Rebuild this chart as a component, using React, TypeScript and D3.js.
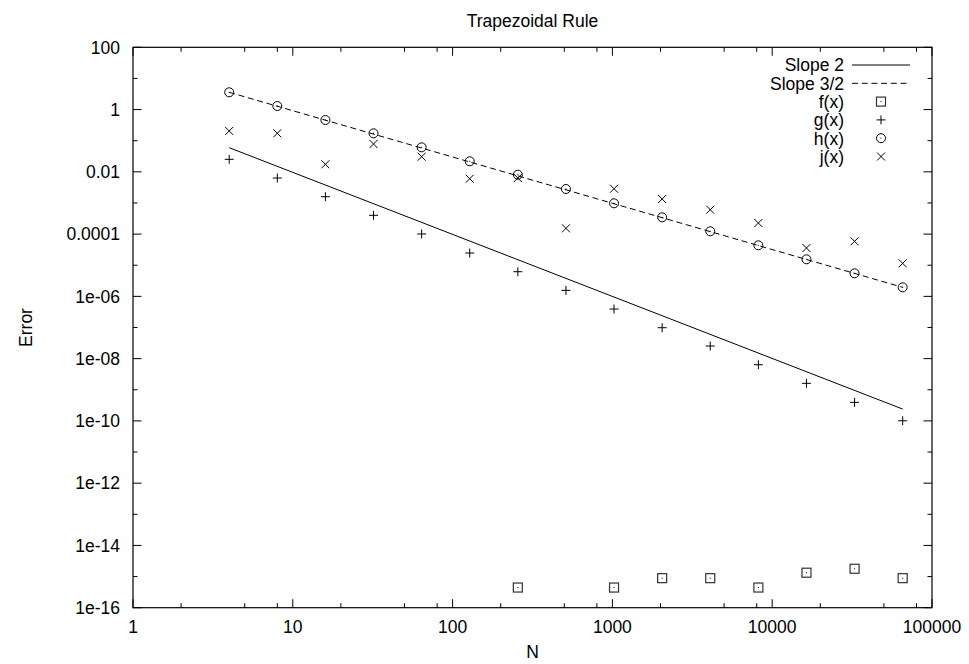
import React from "react";
import * as d3 from "d3";

const W = 969;
const H = 664;

const title = "Trapezoidal Rule";
const xLabel = "N";
const yLabel = "Error";

const N = [4, 8, 16, 32, 64, 128, 256, 512, 1024, 2048, 4096, 8192, 16384, 32768, 65536];
const fVals: (number | null)[] = [null, null, null, null, null, null, 4.44e-16, null, 4.44e-16, 8.88e-16, 8.88e-16, 4.44e-16, 1.33e-15, 1.78e-15, 8.88e-16];
const gVals = [0.0252, 0.00633, 0.00159, 0.000401, 0.000101, 2.47e-5, 6.19e-6, 1.56e-6, 3.92e-7, 9.84e-8, 2.54e-8, 6.37e-9, 1.61e-9, 3.94e-10, 1.01e-10];
const hVals = [3.585, 1.3, 0.462, 0.1727, 0.0613, 0.0218, 0.00808, 0.00281, 0.000975, 0.000346, 0.000123, 4.36e-5, 1.55e-5, 5.5e-6, 1.95e-6];
const jVals = [0.205, 0.173, 0.0175, 0.0783, 0.0306, 0.00601, 0.00633, 0.000153, 0.00287, 0.00134, 0.000607, 0.000227, 3.57e-5, 5.86e-5, 1.15e-5];

const lineN = [4, 65536];
const slope2 = [0.0596, 2.4e-10];
const slope32 = [3.585, 1.95e-6];

const xTickVals = [1, 10, 100, 1000, 10000, 100000];
const xTickLabels = ["1", "10", "100", "1000", "10000", "100000"];
const yExps = d3.range(-16, 3);
const yLabelMap: Record<number, string> = {
  2: "100", 0: "1", [-2]: "0.01", [-4]: "0.0001", [-6]: "1e-06", [-8]: "1e-08",
  [-10]: "1e-10", [-12]: "1e-12", [-14]: "1e-14", [-16]: "1e-16",
};
const legendNames = ["Slope 2", "Slope 3/2", "f(x)", "g(x)", "h(x)", "j(x)"];

const L = 133, R = 932, T = 47.3, B = 607.7;
const FONT = "'Liberation Sans', Arial, Helvetica, sans-serif";
const FS = 17.5;

function Marker({ kind, x, y }: { kind: string; x: number; y: number }) {
  const s = "#000";
  if (kind === "plus") {
    return <g stroke={s} strokeWidth={1}>
      <line x1={x - 4.5} x2={x + 4.5} y1={y} y2={y} />
      <line x1={x} x2={x} y1={y - 4.5} y2={y + 4.5} />
    </g>;
  }
  if (kind === "cross") {
    return <g stroke={s} strokeWidth={1}>
      <line x1={x - 4} x2={x + 4} y1={y - 4} y2={y + 4} />
      <line x1={x - 4} x2={x + 4} y1={y + 4} y2={y - 4} />
    </g>;
  }
  if (kind === "circle") {
    return <g>
      <circle cx={x} cy={y} r={4.5} fill="none" stroke={s} strokeWidth={1} />
      <rect x={x - 0.5} y={y - 0.5} width={1} height={1} fill={s} />
    </g>;
  }
  return <g>
    <rect x={x - 4.5} y={y - 4.5} width={9} height={9} fill="none" stroke="#333" strokeWidth={1.2} />
    <rect x={x - 0.5} y={y - 0.5} width={1} height={1} fill={s} />
  </g>;
}

export default function App() {
  const x = d3.scaleLog().domain([1, 1e5]).range([L, R]);
  const y = d3.scaleLog().domain([1e-16, 100]).range([B, T]);
  const line = d3.line<[number, number]>().x(d => x(d[0])).y(d => y(d[1]));

  const xMinor: number[] = [];
  for (let e = 0; e < 5; e++) for (const m of [2, 5, 8]) xMinor.push(m * Math.pow(10, e));

  const legendY = (i: number) => 65 + i * 18.3;
  const kinds = ["square", "plus", "circle", "cross"];
  const series = [fVals, gVals, hVals, jVals];

  return (
    <svg width={W} height={H} style={{ position: "absolute", left: 0, top: 0, background: "#fff" }}
      fontFamily={FONT} fontSize={FS}>
      <rect x={0} y={0} width={W} height={H} fill="#fff" />
      {/* ticks */}
      <g stroke="#000" strokeWidth={1}>
        {xTickVals.map(v => <g key={"xt" + v}>
          <line x1={x(v)} x2={x(v)} y1={B} y2={B - 8.5} />
          <line x1={x(v)} x2={x(v)} y1={T} y2={T + 8.5} />
        </g>)}
        {xMinor.map(v => <g key={"xm" + v}>
          <line x1={x(v)} x2={x(v)} y1={B} y2={B - 4.5} />
          <line x1={x(v)} x2={x(v)} y1={T} y2={T + 4.5} />
        </g>)}
        {yExps.map(e => {
          const len = e % 2 === 0 ? 8.5 : 4.5;
          const yy = y(Math.pow(10, e));
          return <g key={"yt" + e}>
            <line x1={L} x2={L + len} y1={yy} y2={yy} />
            <line x1={R} x2={R - len} y1={yy} y2={yy} />
          </g>;
        })}
      </g>
      {/* tick labels */}
      {xTickVals.map((v, i) => <text key={"xl" + v} x={x(v)} y={633} textAnchor="middle">{xTickLabels[i]}</text>)}
      {yExps.filter(e => e % 2 === 0).map(e => <text key={"yl" + e} x={120} y={y(Math.pow(10, e))} dy="0.36em" textAnchor="end">{yLabelMap[e]}</text>)}
      {/* lines */}
      <path d={line(lineN.map((n, i) => [n, slope2[i]]) as [number, number][]) || ""} fill="none" stroke="#000" strokeWidth={1} />
      <path d={line(lineN.map((n, i) => [n, slope32[i]]) as [number, number][]) || ""} fill="none" stroke="#000" strokeWidth={1} strokeDasharray="6,3.7" />
      {/* points */}
      {series.map((vals, si) => <g key={"s" + si}>
        {vals.map((v, i) => v == null ? null : <Marker key={i} kind={kinds[si]} x={x(N[i])} y={y(v)} />)}
      </g>)}
      {/* legend */}
      {legendNames.map((nm, i) => <text key={"lg" + i} x={844} y={legendY(i)} dy="0.36em" textAnchor="end">{nm}</text>)}
      <line x1={852} x2={910} y1={legendY(0)} y2={legendY(0)} stroke="#000" strokeWidth={1} />
      <line x1={852} x2={910} y1={legendY(1)} y2={legendY(1)} stroke="#000" strokeWidth={1} strokeDasharray="6,3.7" />
      {kinds.map((k, i) => <Marker key={"lm" + i} kind={k} x={881} y={legendY(i + 2)} />)}
      {/* frame */}
      <rect x={L} y={T} width={R - L} height={B - T} fill="none" stroke="#000" strokeWidth={1.2} />
      {/* titles */}
      <text x={(L + R) / 2} y={27} textAnchor="middle">{title}</text>
      <text x={(L + R) / 2} y={658} textAnchor="middle">{xLabel}</text>
      <text transform={`translate(31.5,${(T + B) / 2}) rotate(-90)`} textAnchor="middle">{yLabel}</text>
    </svg>
  );
}
